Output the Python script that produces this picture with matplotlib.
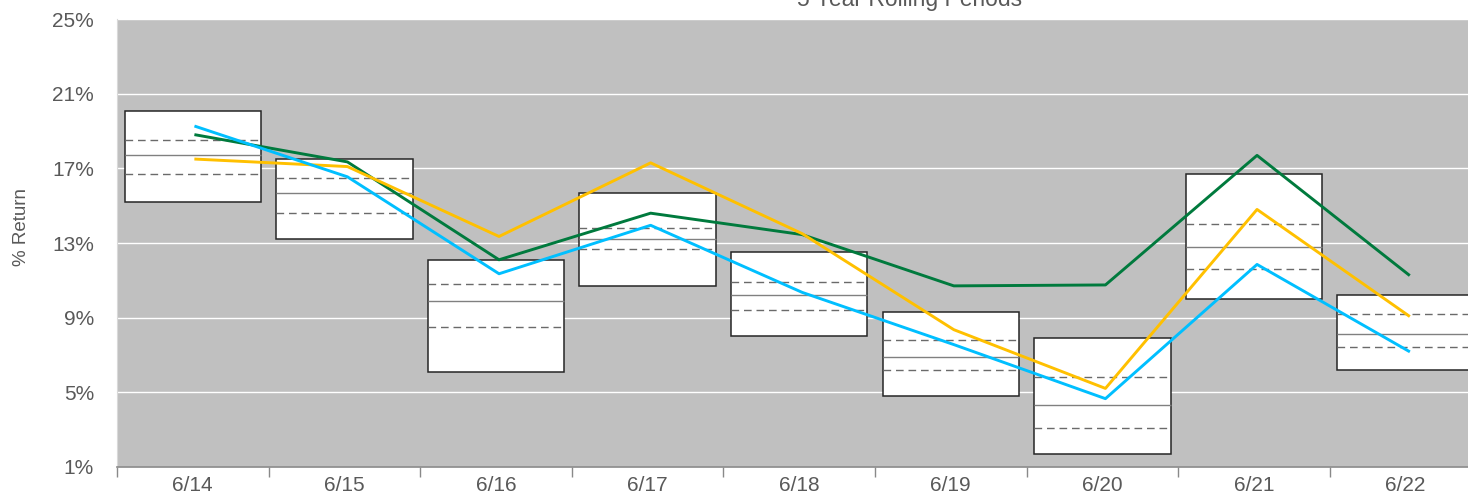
# 5 year rolling periods - range boxes with three return lines
import numpy as np
import matplotlib.pyplot as plt

plt.rcParams['font.family'] = ['Liberation Sans', 'DejaVu Sans']

# Data (% return)
periods = ['6/14', '6/15', '6/16', '6/17', '6/18', '6/19', '6/20', '6/21', '6/22']
box_top = [20.1, 17.5, 12.1, 15.7, 12.5, 9.3, 7.9, 16.7, 10.2]
box_p75 = [18.5, 16.5, 10.8, 13.8, 10.9, 7.8, 5.8, 14.0, 9.2]
box_med = [17.7, 15.7, 9.9, 13.2, 10.2, 6.9, 4.3, 12.8, 8.1]
box_p25 = [16.7, 14.6, 8.5, 12.7, 9.4, 6.2, 3.1, 11.6, 7.4]
box_bot = [15.2, 13.2, 6.1, 10.7, 8.0, 4.8, 1.7, 10.0, 6.2]

green = [18.8, 17.35, 12.1, 14.6, 13.45, 10.7, 10.75, 17.7, 11.3]
yellow = [17.5, 17.1, 13.35, 17.3, 13.5, 8.35, 5.2, 14.8, 9.1]
blue = [19.25, 16.55, 11.35, 13.95, 10.35, 7.55, 4.65, 11.85, 7.2]

yticks = [1, 5, 9, 13, 17, 21, 25]

# Figure
fig = plt.figure(figsize=(14.68, 4.95), dpi=100)
ax = fig.add_axes([117 / 1468, 28.3 / 495, 9 * 151.6 / 1468, 447.4 / 495])
ax.set_facecolor('#C0C0C0')

x = np.arange(len(periods))
w = 0.9

# Boxes
top = np.array(box_top)
bot = np.array(box_bot)
ax.bar(x, top - bot, bottom=bot, width=w, color='white',
       edgecolor='#262626', linewidth=1.1, zorder=2)
ax.hlines(box_med, x - w / 2, x + w / 2, color='#808080', linewidth=1.0, zorder=3)
ax.hlines(box_p75, x - w / 2, x + w / 2, color='#6a6a6a', linewidth=1.0,
          linestyles=(0, (5.5, 3.5)), zorder=3)
ax.hlines(box_p25, x - w / 2, x + w / 2, color='#6a6a6a', linewidth=1.0,
          linestyles=(0, (5.5, 3.5)), zorder=3)

# Lines
ax.plot(x + 0.02, green, color='#007A3D', linewidth=2.1, zorder=4)
ax.plot(x + 0.02, yellow, color='#FFC000', linewidth=2.1, zorder=4)
ax.plot(x + 0.02, blue, color='#00BFFF', linewidth=2.1, zorder=4)

# Axes styling
ax.set_xlim(-0.5, len(periods) - 0.5)
ax.set_ylim(1, 25)
ax.set_yticks(yticks)
ax.set_yticklabels([f'{v}%' for v in yticks])
ax.grid(axis='y', color='white', linewidth=1.0, zorder=1)
ax.set_axisbelow(True)
ax.tick_params(axis='y', length=0, pad=16.5, labelsize=15, labelcolor='#595959')

ax.set_xticks(np.arange(len(periods) + 1) - 0.5)
ax.set_xticklabels([])
ax.set_xticks(x, minor=True)
ax.set_xticklabels(periods, minor=True)
ax.tick_params(axis='x', which='major', length=7, color='#898989', width=1)
ax.tick_params(axis='x', which='minor', length=0, pad=6.5, labelsize=15,
               labelcolor='#595959')

for s in ['top', 'right']:
    ax.spines[s].set_visible(False)
ax.spines['left'].set_color('#D9D9D9')
ax.spines['bottom'].set_color('#898989')
ax.spines['bottom'].set_linewidth(1.2)

fig.text(21 / 1468, 1 - 227 / 495, '% Return', rotation=90, ha='center',
         va='center', fontsize=13.5, color='#595959')
fig.text(910 / 1468, 1 - 6 / 495, '5 Year Rolling Periods', ha='center',
         va='baseline', fontsize=16.5, color='#595959')

fig.savefig('out.png', dpi=100)
